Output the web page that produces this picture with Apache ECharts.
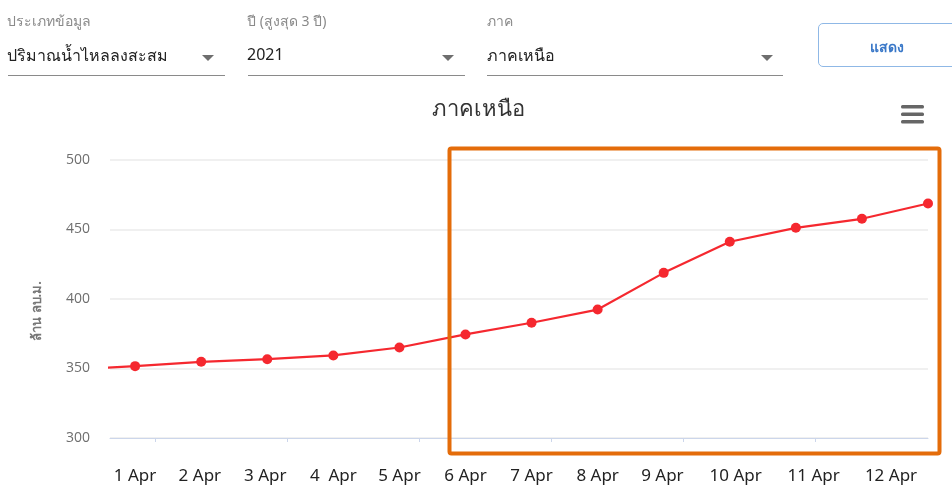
<!DOCTYPE html>
<html><head><meta charset="utf-8">
<script src="https://cdn.jsdelivr.net/npm/echarts@6/dist/echarts.min.js"></script>
<style>
html,body{margin:0;padding:0;background:#fff;width:952px;height:489px;overflow:hidden;font-family:"Noto Sans",sans-serif;}
#chart{position:absolute;left:0;top:0;width:952px;height:489px;}
.lbl{position:absolute;font-size:14px;color:#8a8a8a;}
.val{position:absolute;font-size:16px;color:#222;}
.line{position:absolute;height:1px;background:#8a8a8a;}
.arrow{position:absolute;width:0;height:0;border-left:6px solid transparent;border-right:6px solid transparent;border-top:6px solid #6e6e6e;}
.btn{position:absolute;left:818px;top:23px;width:150px;height:44px;border:1px solid #8fb8e6;border-radius:5px;box-sizing:border-box;}
.btntxt{position:absolute;left:870px;top:36px;font-size:14px;color:#3a78c8;font-weight:bold;}
</style></head>
<body>
<div id="chart"></div>
<div class="lbl" style="left:7px;top:10px">ประเภทข้อมูล</div>
<div class="val" style="left:7px;top:43px">ปริมาณน้ำไหลลงสะสม</div>
<div class="arrow" style="left:202px;top:55px"></div>
<div class="line" style="left:8px;top:75px;width:217px"></div>
<div class="lbl" style="left:247px;top:10px">ปี (สูงสุด 3 ปี)</div>
<div class="val" style="left:247px;top:43px">2021</div>
<div class="arrow" style="left:442px;top:55px"></div>
<div class="line" style="left:248px;top:75px;width:217px"></div>
<div class="lbl" style="left:487px;top:10px">ภาค</div>
<div class="val" style="left:487px;top:43px">ภาคเหนือ</div>
<div class="arrow" style="left:761px;top:55px"></div>
<div class="line" style="left:487px;top:75px;width:296px"></div>
<div class="btn"></div>
<div class="btntxt">แสดง</div>
<script>
// data
const title = 'ภาคเหนือ';
const yAxisName = 'ล้าน ลบ.ม.';
const dayIndex = [-1, 0, 1, 2, 3, 4, 5, 6, 7, 8, 9, 10, 11, 12];
const values = [349.1, 351.7, 354.8, 356.7, 359.4, 365.1, 374.5, 382.9, 392.4, 418.8, 441.2, 451.2, 457.7, 468.7];
const xLabels = ['1 Apr','2 Apr','3 Apr','4  Apr','5 Apr','6 Apr','7 Apr','8 Apr','9 Apr','10 Apr','11 Apr','12 Apr'];
const xLabelAt = [0, 0.98, 1.97, 3.0, 4.0, 5.0, 6.0, 7.0, 7.98, 9.09, 10.27, 11.44];
const xTickAt = [0.3, 2.3, 4.3, 6.3, 8.3, 10.3];
const yTicks = [300, 350, 400, 450, 500];

const chart = echarts.init(document.getElementById('chart'));
chart.setOption({
  animation: false,
  title: { text: title, left: 473, top: 94, textAlign: 'center',
    textStyle: { fontSize: 22, fontWeight: 'normal', color: '#333', fontFamily: 'Noto Sans' } },
  grid: { left: 110, right: 24, top: 160, bottom: 51 },
  xAxis: {
    type: 'value', min: -0.38, max: 12,
    axisLine: { lineStyle: { color: '#ccd6eb' } },
    axisTick: { show: true, customValues: xTickAt, length: 4, lineStyle: { color: '#ccd6eb' } },
    splitLine: { show: false },
    axisLabel: {
      customValues: xLabelAt,
      formatter: function (v) { const i = xLabelAt.indexOf(v); return i >= 0 ? xLabels[i] : ''; },
      margin: 30, fontSize: 17, color: '#222', fontFamily: 'Noto Sans'
    }
  },
  yAxis: {
    type: 'value', min: yTicks[0], max: yTicks[yTicks.length - 1], interval: 50,
    name: yAxisName, nameLocation: 'middle', nameGap: 66, nameRotate: 90,
    nameTextStyle: { fontSize: 13, fontWeight: 'bold', color: '#777', fontFamily: 'Noto Sans', padding: [0, 24, 0, 0] },
    axisLine: { show: false }, axisTick: { show: false },
    splitLine: { lineStyle: { color: '#ebebeb', width: 1.5 } },
    axisLabel: { margin: 20, fontSize: 14, color: '#6e6e6e', fontFamily: 'Open Sans' }
  },
  series: [{
    type: 'line',
    data: dayIndex.map((d, i) => [d, values[i]]),
    clip: true,
    symbol: 'circle', symbolSize: 10,
    lineStyle: { color: '#f5282f', width: 2.2 },
    itemStyle: { color: '#f5282f' }
  }],
  graphic: [
    { type: 'group', left: 901, top: 105, children: [
      { type: 'rect', shape: { x: 0, y: 0, width: 23, height: 3.5, r: 1.5 }, style: { fill: '#666' } },
      { type: 'rect', shape: { x: 0, y: 7.5, width: 23, height: 3.5, r: 1.5 }, style: { fill: '#666' } },
      { type: 'rect', shape: { x: 0, y: 15, width: 23, height: 3.5, r: 1.5 }, style: { fill: '#666' } }
    ]},
    { type: 'rect', left: 447, top: 146, shape: { width: 490, height: 305, r: 2 },
      style: { fill: 'none', stroke: '#e46c0a', lineWidth: 4 }, z: 100 }
  ]
});
</script>
</body></html>
